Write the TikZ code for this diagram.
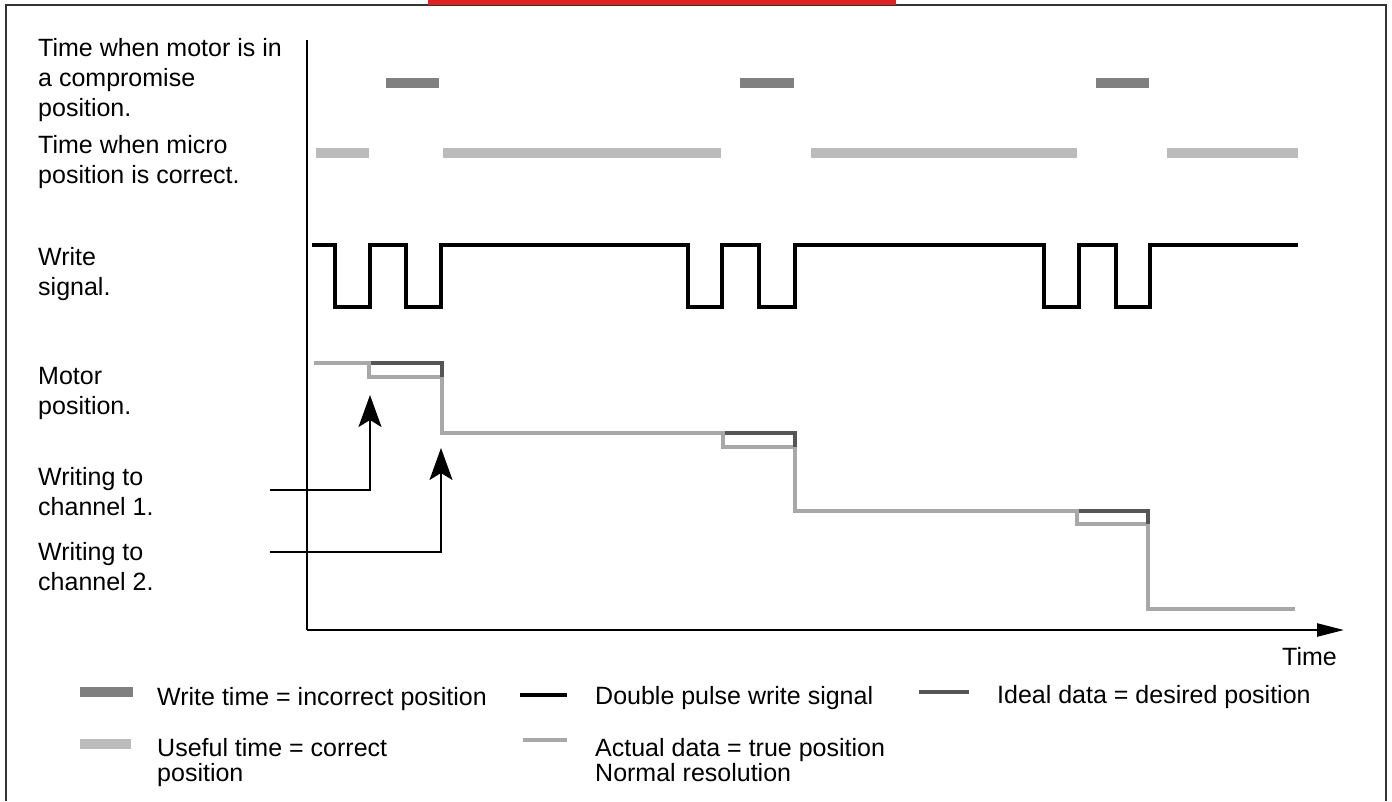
\documentclass[tikz,border=0pt]{standalone}
\usepackage{fontspec}
\setmainfont{Liberation Sans}
\usetikzlibrary{arrows.meta}
\definecolor{barDark}{HTML}{808080}
\definecolor{barLight}{HTML}{BBBBBB}
\definecolor{actualC}{HTML}{A8A8A8}
\definecolor{idealC}{HTML}{555555}
\definecolor{frameC}{HTML}{333333}
\definecolor{redC}{HTML}{DD2222}
\tikzset{
  lbl/.style={font=\fontsize{25}{30}\selectfont, align=left, anchor=north west, inner sep=0pt},
  leg/.style={font=\fontsize{25}{25.5}\selectfont, align=left, anchor=north west, inner sep=0pt},
  darkbar/.style={fill=barDark, draw=none},
  lightbar/.style={fill=barLight, draw=none},
  wsig/.style={line width=4pt, black, miter limit=10},
  actual/.style={line width=4pt, actualC},
  ideal/.style={line width=4pt, idealC},
  pointer/.style={line width=2pt, black, -{Stealth[length=32pt,width=23pt,inset=7pt]}},
  axisline/.style={line width=2.5pt, black}
}
\begin{document}
\begin{tikzpicture}[x=1pt,y=-1pt]
\useasboundingbox (0,0) rectangle (1392,801);
\fill[white] (0,0) rectangle (1392,801);
% frame and red header bar
\draw[frameC, line width=1.5pt] (6,801) -- (6,5) -- (1386,5) -- (1386,801);
\fill[redC] (428,0) rectangle (896,5);

% left labels
\node[lbl] (lmotor) at (38,38) {Time when motor is in\\a compromise\\position.};
\node[lbl] (lmicro) at (38,135) {Time when micro\\position is correct.};
\node[lbl] (lwrite) at (38,247) {Write\\signal.};
\node[lbl] (lpos) at (38,367) {Motor\\position.};
\node[lbl] (lch1) at (38,467) {Writing to\\channel 1.};
\node[lbl] (lch2) at (38,542) {Writing to\\channel 2.};

% axes
\coordinate (ytop) at (307,40);
\coordinate (origin) at (307,630);
\coordinate (xend) at (1344,630);
\draw[axisline] (ytop) -- (origin);
\draw[axisline, -{Triangle[length=27pt,width=13pt]}] (origin) -- (xend);
\node[font=\fontsize{25}{30}\selectfont, anchor=base east, inner sep=0pt] (ltime) at (1337,665) {Time};

% compromise bars
\fill[darkbar] (386,78) rectangle (439,88);
\fill[darkbar] (740,78) rectangle (794,88);
\fill[darkbar] (1096,78) rectangle (1149,88);
% useful bars
\fill[lightbar] (316,148) rectangle (369,158);
\fill[lightbar] (443,148) rectangle (721,158);
\fill[lightbar] (811,148) rectangle (1077,158);
\fill[lightbar] (1167,148) rectangle (1298,158);

% write signal
\draw[wsig] (312,245) -- (335,245) -- (335,307) -- (370,307) -- (370,245) -- (406,245) -- (406,307) -- (441,307) -- (441,245)
  -- (688,245) -- (688,307) -- (722,307) -- (722,245) -- (759,245) -- (759,307) -- (795,307) -- (795,245)
  -- (1044,245) -- (1044,307) -- (1079,307) -- (1079,245) -- (1116,245) -- (1116,307) -- (1150,307) -- (1150,245) -- (1298,245);

% motor position: actual
\draw[actual] (314,363) -- (369,363) -- (369,377) -- (442,377) -- (442,433) -- (723,433) -- (723,447) -- (795,447)
  -- (795,511) -- (1077,511) -- (1077,524) -- (1148,524) -- (1148,609) -- (1295,609);
% motor position: ideal
\draw[ideal] (371,363) -- (442,363) -- (442,377);
\draw[ideal] (725,433) -- (795,433) -- (795,447);
\draw[ideal] (1079,511) -- (1148,511) -- (1148,524);

% writing pointers
\coordinate (c1start) at (270,490);
\coordinate (c1corner) at (370,490);
\coordinate (c1tip) at (370,395);
\coordinate (c2start) at (270,552);
\coordinate (c2corner) at (441,552);
\coordinate (c2tip) at (441,448);
\draw[pointer] (c1start) -- (c1corner) -- (c1tip);
\draw[pointer] (c2start) -- (c2corner) -- (c2tip);

% legend
\fill[darkbar] (80,687) rectangle (133,697);
\node[leg] (lg1) at (157,687) {Write time = incorrect position};
\fill[lightbar] (80,739) rectangle (131,749);
\node[leg] (lg2) at (157,738) {Useful time = correct\\position};
\draw[wsig] (520,695) -- (567,695);
\node[leg] (lg3) at (595,686) {Double pulse write signal};
\draw[actual] (523,740) -- (567,740);
\node[leg] (lg4) at (595,738) {Actual data = true position\\Normal resolution};
\draw[ideal] (919,692) -- (969,692);
\node[leg] (lg5) at (997,685) {Ideal data = desired position};
\end{tikzpicture}
\end{document}
